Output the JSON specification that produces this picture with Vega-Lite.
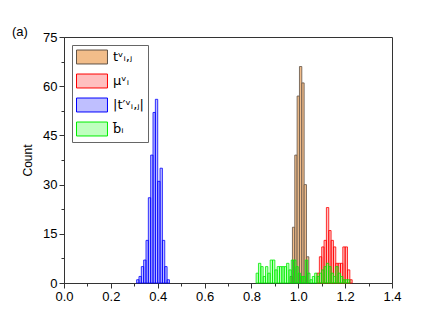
{
  "$schema": "https://vega.github.io/schema/vega-lite/v6.json",
  "width": 328,
  "height": 246,
  "autosize": {"type": "none"},
  "padding": {"left": 64, "top": 37, "right": 44, "bottom": 51},
  "config": {
    "font": "Liberation Sans",
    "view": {"stroke": "#333", "strokeWidth": 1},
    "axis": {"domainColor": "#333", "tickColor": "#333", "labelColor": "#000", "titleColor": "#000", "grid": false}
  },
  "title": {"text": "(a)", "anchor": "start", "frame": "group", "dx": -52, "dy": 12, "fontSize": 13, "fontWeight": "normal", "font": "Liberation Sans"},
  "datasets": {
    "bars": [
      {"s": "tᵛᵢ,ⱼ", "lo": 0.965, "hi": 0.975, "n": 2},
      {"s": "tᵛᵢ,ⱼ", "lo": 0.975, "hi": 0.985, "n": 17},
      {"s": "tᵛᵢ,ⱼ", "lo": 0.985, "hi": 0.995, "n": 39},
      {"s": "tᵛᵢ,ⱼ", "lo": 0.995, "hi": 1.005, "n": 57},
      {"s": "tᵛᵢ,ⱼ", "lo": 1.005, "hi": 1.015, "n": 66},
      {"s": "tᵛᵢ,ⱼ", "lo": 1.015, "hi": 1.025, "n": 61},
      {"s": "tᵛᵢ,ⱼ", "lo": 1.025, "hi": 1.035, "n": 30},
      {"s": "tᵛᵢ,ⱼ", "lo": 1.035, "hi": 1.045, "n": 8},
      {"s": "μᵛᵢ", "lo": 1.08, "hi": 1.09, "n": 3},
      {"s": "μᵛᵢ", "lo": 1.09, "hi": 1.10, "n": 8},
      {"s": "μᵛᵢ", "lo": 1.10, "hi": 1.11, "n": 11},
      {"s": "μᵛᵢ", "lo": 1.11, "hi": 1.12, "n": 13},
      {"s": "μᵛᵢ", "lo": 1.12, "hi": 1.13, "n": 23},
      {"s": "μᵛᵢ", "lo": 1.13, "hi": 1.14, "n": 16},
      {"s": "μᵛᵢ", "lo": 1.14, "hi": 1.15, "n": 13},
      {"s": "μᵛᵢ", "lo": 1.15, "hi": 1.16, "n": 11},
      {"s": "μᵛᵢ", "lo": 1.16, "hi": 1.17, "n": 6},
      {"s": "μᵛᵢ", "lo": 1.17, "hi": 1.18, "n": 6},
      {"s": "μᵛᵢ", "lo": 1.18, "hi": 1.19, "n": 6},
      {"s": "μᵛᵢ", "lo": 1.19, "hi": 1.20, "n": 11},
      {"s": "μᵛᵢ", "lo": 1.20, "hi": 1.21, "n": 11},
      {"s": "μᵛᵢ", "lo": 1.21, "hi": 1.22, "n": 4},
      {"s": "μᵛᵢ", "lo": 1.22, "hi": 1.23, "n": 1},
      {"s": "|t′ᵛᵢ,ⱼ|", "lo": 0.31, "hi": 0.32, "n": 1},
      {"s": "|t′ᵛᵢ,ⱼ|", "lo": 0.32, "hi": 0.33, "n": 2},
      {"s": "|t′ᵛᵢ,ⱼ|", "lo": 0.33, "hi": 0.34, "n": 5},
      {"s": "|t′ᵛᵢ,ⱼ|", "lo": 0.34, "hi": 0.35, "n": 7},
      {"s": "|t′ᵛᵢ,ⱼ|", "lo": 0.35, "hi": 0.36, "n": 13},
      {"s": "|t′ᵛᵢ,ⱼ|", "lo": 0.36, "hi": 0.37, "n": 26},
      {"s": "|t′ᵛᵢ,ⱼ|", "lo": 0.37, "hi": 0.38, "n": 39},
      {"s": "|t′ᵛᵢ,ⱼ|", "lo": 0.38, "hi": 0.39, "n": 52},
      {"s": "|t′ᵛᵢ,ⱼ|", "lo": 0.39, "hi": 0.40, "n": 56},
      {"s": "|t′ᵛᵢ,ⱼ|", "lo": 0.40, "hi": 0.41, "n": 31},
      {"s": "|t′ᵛᵢ,ⱼ|", "lo": 0.41, "hi": 0.42, "n": 35},
      {"s": "|t′ᵛᵢ,ⱼ|", "lo": 0.42, "hi": 0.43, "n": 13},
      {"s": "|t′ᵛᵢ,ⱼ|", "lo": 0.43, "hi": 0.44, "n": 5},
      {"s": "|t′ᵛᵢ,ⱼ|", "lo": 0.44, "hi": 0.45, "n": 1},
      {"s": "b̄ᵢ", "lo": 0.82, "hi": 0.83, "n": 3},
      {"s": "b̄ᵢ", "lo": 0.83, "hi": 0.84, "n": 6},
      {"s": "b̄ᵢ", "lo": 0.84, "hi": 0.85, "n": 5},
      {"s": "b̄ᵢ", "lo": 0.85, "hi": 0.86, "n": 2},
      {"s": "b̄ᵢ", "lo": 0.86, "hi": 0.87, "n": 5},
      {"s": "b̄ᵢ", "lo": 0.87, "hi": 0.88, "n": 3},
      {"s": "b̄ᵢ", "lo": 0.88, "hi": 0.89, "n": 7},
      {"s": "b̄ᵢ", "lo": 0.89, "hi": 0.90, "n": 7},
      {"s": "b̄ᵢ", "lo": 0.90, "hi": 0.91, "n": 4},
      {"s": "b̄ᵢ", "lo": 0.91, "hi": 0.92, "n": 5},
      {"s": "b̄ᵢ", "lo": 0.92, "hi": 0.93, "n": 5},
      {"s": "b̄ᵢ", "lo": 0.93, "hi": 0.94, "n": 5},
      {"s": "b̄ᵢ", "lo": 0.94, "hi": 0.95, "n": 5},
      {"s": "b̄ᵢ", "lo": 0.95, "hi": 0.96, "n": 6},
      {"s": "b̄ᵢ", "lo": 0.96, "hi": 0.97, "n": 4},
      {"s": "b̄ᵢ", "lo": 0.97, "hi": 0.98, "n": 7},
      {"s": "b̄ᵢ", "lo": 0.98, "hi": 0.99, "n": 7},
      {"s": "b̄ᵢ", "lo": 0.99, "hi": 1.00, "n": 5},
      {"s": "b̄ᵢ", "lo": 1.00, "hi": 1.01, "n": 3},
      {"s": "b̄ᵢ", "lo": 1.01, "hi": 1.02, "n": 2},
      {"s": "b̄ᵢ", "lo": 1.02, "hi": 1.03, "n": 2},
      {"s": "b̄ᵢ", "lo": 1.03, "hi": 1.04, "n": 7},
      {"s": "b̄ᵢ", "lo": 1.04, "hi": 1.05, "n": 3},
      {"s": "b̄ᵢ", "lo": 1.05, "hi": 1.06, "n": 1},
      {"s": "b̄ᵢ", "lo": 1.06, "hi": 1.07, "n": 2},
      {"s": "b̄ᵢ", "lo": 1.07, "hi": 1.08, "n": 3},
      {"s": "b̄ᵢ", "lo": 1.08, "hi": 1.09, "n": 2},
      {"s": "b̄ᵢ", "lo": 1.09, "hi": 1.10, "n": 3},
      {"s": "b̄ᵢ", "lo": 1.10, "hi": 1.11, "n": 4},
      {"s": "b̄ᵢ", "lo": 1.11, "hi": 1.12, "n": 5},
      {"s": "b̄ᵢ", "lo": 1.12, "hi": 1.13, "n": 6},
      {"s": "b̄ᵢ", "lo": 1.13, "hi": 1.14, "n": 5},
      {"s": "b̄ᵢ", "lo": 1.14, "hi": 1.15, "n": 3},
      {"s": "b̄ᵢ", "lo": 1.15, "hi": 1.16, "n": 2},
      {"s": "b̄ᵢ", "lo": 1.16, "hi": 1.17, "n": 5},
      {"s": "b̄ᵢ", "lo": 1.17, "hi": 1.18, "n": 3},
      {"s": "b̄ᵢ", "lo": 1.18, "hi": 1.19, "n": 2},
      {"s": "b̄ᵢ", "lo": 1.19, "hi": 1.20, "n": 1},
      {"s": "b̄ᵢ", "lo": 1.20, "hi": 1.21, "n": 1},
      {"s": "b̄ᵢ", "lo": 1.21, "hi": 1.22, "n": 1}
    ]
  },
  "data": {"name": "bars"},
  "resolve": {"axis": {"x": "independent", "y": "independent"}},
  "layer": [
    {
      "transform": [{"filter": "datum.s == 'tᵛᵢ,ⱼ' || datum.s == 'μᵛᵢ'"}],
      "mark": {"type": "bar", "strokeWidth": 0.8},
      "encoding": {
        "x": {"field": "lo", "type": "quantitative", "scale": {"domain": [0, 1.4], "nice": false},
              "axis": {"orient": "bottom", "values": [0, 0.2, 0.4, 0.6, 0.8, 1.0, 1.2, 1.4], "format": ".1f", "title": null, "labelFontSize": 13, "tickSize": 5, "labelPadding": 2, "labelFlush": false}},
        "x2": {"field": "hi"},
        "y": {"field": "n", "type": "quantitative", "scale": {"domain": [0, 75], "nice": false},
              "axis": {"orient": "left", "values": [0, 15, 30, 45, 60, 75], "title": "Count", "titleFontSize": 12, "titleFontWeight": "normal", "titlePadding": 8, "labelFontSize": 13, "tickSize": 5, "labelPadding": 2}},
        "y2": {"datum": 0},
        "fill": {"field": "s", "type": "nominal",
                 "scale": {"domain": ["tᵛᵢ,ⱼ", "μᵛᵢ", "|t′ᵛᵢ,ⱼ|", "b̄ᵢ"], "range": ["#f2bd8a", "rgba(255,0,0,0.25)", "rgba(0,0,255,0.25)", "rgba(0,255,0,0.25)"]},
                 "legend": {"title": null, "orient": "none", "legendX": 8, "legendY": 8, "strokeColor": "#666", "padding": 4, "symbolType": "M-1,-0.93H3.13V0.93H-1Z", "symbolSize": 225, "symbolStrokeWidth": 1, "labelFontSize": 13, "labelFont": "DejaVu Sans", "rowPadding": 6, "labelOffset": 21}},
        "stroke": {"field": "s", "type": "nominal",
                   "scale": {"domain": ["tᵛᵢ,ⱼ", "μᵛᵢ", "|t′ᵛᵢ,ⱼ|", "b̄ᵢ"], "range": ["#5f5246", "#ff0000", "#0000ff", "#00ee00"]},
                   "legend": {"title": null, "orient": "none", "legendX": 8, "legendY": 8, "strokeColor": "#666", "padding": 4, "symbolType": "M-1,-0.93H3.13V0.93H-1Z", "symbolSize": 225, "symbolStrokeWidth": 1, "labelFontSize": 13, "labelFont": "DejaVu Sans", "rowPadding": 6, "labelOffset": 21}}
      }
    },
    {
      "transform": [{"filter": "datum.s == '|t′ᵛᵢ,ⱼ|' || datum.s == 'b̄ᵢ'"}],
      "mark": {"type": "bar", "strokeWidth": 0.8},
      "encoding": {
        "x": {"field": "lo", "type": "quantitative",
              "axis": {"orient": "bottom", "values": [0.1, 0.3, 0.5, 0.7, 0.9, 1.1, 1.3], "labels": false, "domain": false, "title": null, "tickSize": 3}},
        "x2": {"field": "hi"},
        "y": {"field": "n", "type": "quantitative",
              "axis": {"orient": "left", "values": [7.5, 22.5, 37.5, 52.5, 67.5], "labels": false, "domain": false, "title": null, "tickSize": 3}},
        "y2": {"datum": 0},
        "fill": {"field": "s", "type": "nominal"},
        "stroke": {"field": "s", "type": "nominal"}
      }
    }
  ]
}
